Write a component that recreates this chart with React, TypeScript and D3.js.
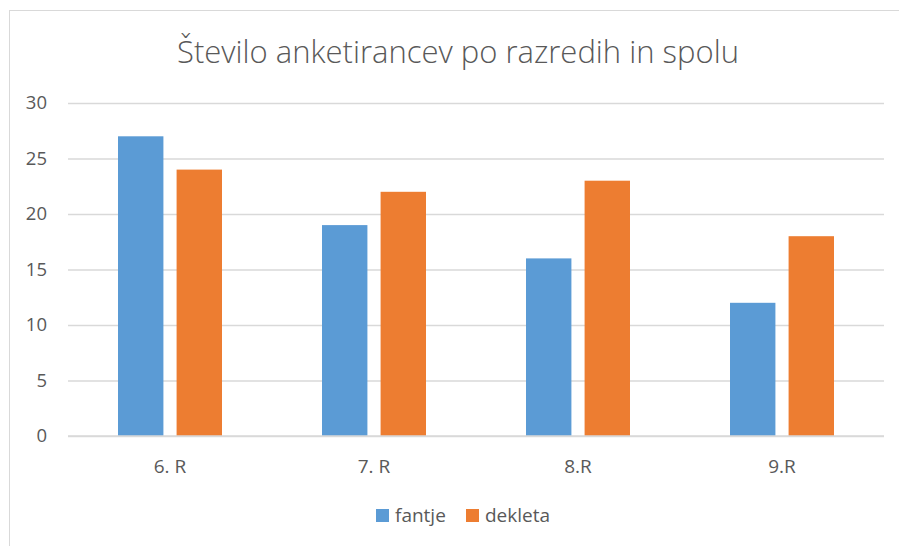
import React,{useRef,useEffect} from 'react';
import {select,scaleBand,scaleLinear,axisLeft,range} from 'd3';

const categories=["6. R","7. R","8.R","9.R"]
const seriesNames=["fantje","dekleta"]
const fantje=[27,19,16,12]
const dekleta=[24,22,23,18]
const yTicks=[0,5,10,15,20,25,30]

const colors=["#5B9BD5","#ED7D31"]
const textColor="#595959"
const gridColor="#D9D9D9"
const font="'Open Sans', 'Noto Sans', sans-serif"

const width=899
const height=546
const margin={top:103,right:15,bottom:110,left:68}

export default function App(){
  const ref=useRef<SVGSVGElement>(null)

  useEffect(()=>{
    const svg=select(ref.current)
    svg.selectAll("*").remove()

    const innerWidth=width-margin.left-margin.right
    const innerHeight=height-margin.top-margin.bottom

    // chart frame (runs off the bottom/right edge like the screenshot)
    svg.append("rect")
      .attr("x",9.5).attr("y",10.5)
      .attr("width",width+20).attr("height",height+20)
      .attr("fill","white").attr("stroke",gridColor).attr("stroke-width",1)

    svg.append("text")
      .attr("x",458)
      .attr("y",63)
      .attr("text-anchor","middle")
      .style("font-family",font)
      .style("font-size","31px")
      .style("font-weight",300)
      .style("fill",textColor)
      .text("Število anketirancev po razredih in spolu")

    const g=svg.append("g").attr("transform",`translate(${margin.left},${margin.top})`)

    const x=scaleBand().domain(categories).range([0,innerWidth]).paddingInner(0).paddingOuter(0)
    const xInner=scaleBand().domain(seriesNames).range([50,x.bandwidth()-50]).paddingInner(0.225)
    const y=scaleLinear().domain([0,30]).range([innerHeight,0])

    // gridlines + y labels
    const yAxis=g.append("g").call(
      axisLeft(y).tickValues(yTicks).tickSize(-innerWidth).tickPadding(21)
    )
    yAxis.select(".domain").remove()
    yAxis.selectAll(".tick line").attr("stroke",gridColor).attr("stroke-width",1.3)
    yAxis.selectAll(".tick text")
      .style("font-family",font).style("font-size","18.5px").style("fill",textColor)

    const data=categories.map((c,i)=>({cat:c,values:[fantje[i],dekleta[i]]}))

    const groups=g.selectAll(".grp").data(data).join("g")
      .attr("class","grp")
      .attr("transform",d=>`translate(${x(d.cat)},0)`)

    groups.selectAll("rect")
      .data(d=>d.values.map((v,k)=>({name:seriesNames[k],v,k})))
      .join("rect")
      .attr("x",d=>xInner(d.name))
      .attr("y",d=>y(d.v))
      .attr("width",xInner.bandwidth())
      .attr("height",d=>innerHeight-y(d.v))
      .attr("fill",d=>colors[d.k])

    // baseline drawn over bars
    g.append("line")
      .attr("x1",0).attr("x2",innerWidth)
      .attr("y1",innerHeight).attr("y2",innerHeight)
      .attr("stroke",gridColor).attr("stroke-width",1.3)

    g.selectAll(".xlab").data(categories).join("text")
      .attr("class","xlab")
      .attr("x",d=>x(d)+x.bandwidth()/2)
      .attr("y",innerHeight+37)
      .attr("text-anchor","middle")
      .style("font-family",font).style("font-size","19px").style("fill",textColor)
      .text(d=>d)

    // legend
    const legX=[376,466]
    const leg=svg.append("g")
    range(seriesNames.length).forEach(i=>{
      leg.append("rect").attr("x",legX[i]).attr("y",509).attr("width",13).attr("height",13).attr("fill",colors[i])
      leg.append("text").attr("x",legX[i]+19).attr("y",522)
        .style("font-family",font).style("font-size","19px").style("fill",textColor)
        .text(seriesNames[i])
    })
  },[])

  return (
    <svg ref={ref} width={width} height={height} style={{position:"absolute",left:0,top:0,background:"white"}}></svg>
  )
}
